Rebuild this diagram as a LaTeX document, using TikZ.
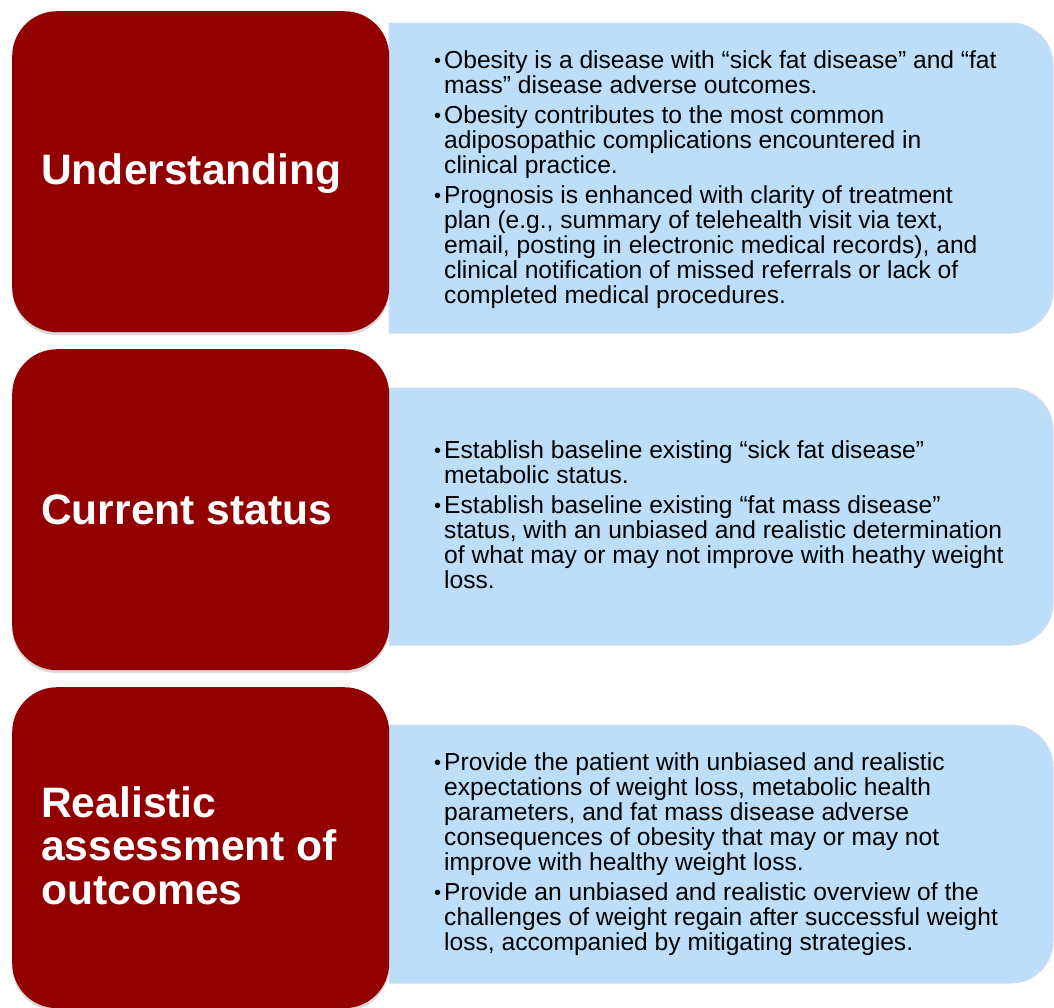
\documentclass[tikz,border=0pt]{standalone}
\usepackage{fontspec}
\setmainfont{Liberation Sans}
\usetikzlibrary{shadows}
\definecolor{boxred}{RGB}{146,0,0}
\definecolor{boxblue}{RGB}{189,222,248}
\definecolor{boxline}{RGB}{212,218,240}
\newcommand{\bul}{\llap{\raisebox{0.5pt}{\fontsize{20}{20}\selectfont •}\hspace{3pt}}}
\begin{document}
\begin{tikzpicture}[x=1pt,y=-1pt,
  redbox/.style={fill=boxred, rounded corners=45pt, inner sep=0pt, anchor=north west,
    minimum width=377pt, minimum height=321pt,
    drop shadow={opacity=0.3, shadow xshift=0pt, shadow yshift=-3pt}},
  bluebox/.style={fill=boxblue, draw=boxline, line width=1pt},
  title/.style={anchor=base west, inner sep=0pt, text=white, font=\fontsize{42.6}{43.5}\selectfont\bfseries},
  body/.style={anchor=base west, inner sep=0pt, text=black, font=\fontsize{24.6}{25}\selectfont}]

\useasboundingbox (0,0) rectangle (1054,1007);

% blue boxes
\path[bluebox] (389,23) [rounded corners=42pt] -- (1053,23) -- (1053,333) [sharp corners] -- (389,333) -- cycle;
\path[bluebox] (389,388) [rounded corners=42pt] -- (1053,388) -- (1053,645) [sharp corners] -- (389,645) -- cycle;
\path[bluebox] (389,725) [rounded corners=42pt] -- (1053,725) -- (1053,983) [sharp corners] -- (389,983) -- cycle;

% red boxes
\node[redbox] (r1) at (12,11) {};
\node[redbox] (r2) at (12,349) {};
\node[redbox] (r3) at (12,687) {};

% titles
\node[title] (h1) at (41,184) {Understanding};
\node[title] (h2) at (41,524) {Current status};
\node[title] (h3) at (41,817) {\vtop{\hbox{Realistic}\hbox{assessment of}\hbox{outcomes}}};

% body texts
\node[body] (t1) at (444,68) {\vtop{%
\hbox{\bul Obesity is a disease with “sick fat disease” and “fat}
\hbox{mass” disease adverse outcomes.}
\vskip 5pt
\hbox{\bul Obesity contributes to the most common}
\hbox{adiposopathic complications encountered in}
\hbox{clinical practice.}
\vskip 5pt
\hbox{\bul Prognosis is enhanced with clarity of treatment}
\hbox{plan (e.g., summary of telehealth visit via text,}
\hbox{email, posting in electronic medical records), and}
\hbox{clinical notification of missed referrals or lack of}
\hbox{completed medical procedures.}}};

\node[body] (t2) at (444,458) {\vtop{%
\hbox{\bul Establish baseline existing “sick fat disease”}
\hbox{metabolic status.}
\vskip 5pt
\hbox{\bul Establish baseline existing “fat mass disease”}
\hbox{status, with an unbiased and realistic determination}
\hbox{of what may or may not improve with heathy weight}
\hbox{loss.}}};

\node[body] (t3) at (444,770) {\vtop{%
\hbox{\bul Provide the patient with unbiased and realistic}
\hbox{expectations of weight loss, metabolic health}
\hbox{parameters, and fat mass disease adverse}
\hbox{consequences of obesity that may or may not}
\hbox{improve with healthy weight loss.}
\vskip 5pt
\hbox{\bul Provide an unbiased and realistic overview of the}
\hbox{challenges of weight regain after successful weight}
\hbox{loss, accompanied by mitigating strategies.}}};
\end{tikzpicture}
\end{document}
